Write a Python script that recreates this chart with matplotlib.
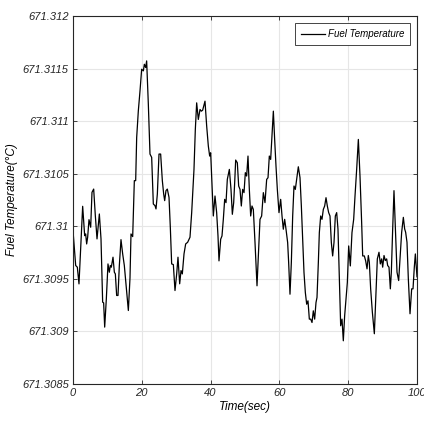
import matplotlib
matplotlib.use("Agg")
import matplotlib.pyplot as plt
import numpy as np

time_sec = [0.0, 0.78, 1.26, 1.74, 2.03, 2.81, 3.39, 3.68, 3.97, 4.26, 4.65, 5.14, 5.52, 6.01, 6.49, 6.98,
            7.66, 8.14, 8.62, 8.91, 9.21, 9.69, 10.17, 10.56, 10.85, 11.14, 11.63, 12.02, 12.31, 12.69,
            13.08, 13.47, 13.95, 14.44, 14.92, 15.41, 16.09, 16.57,
            16.86, 17.35, 17.83, 18.22, 18.51, 18.99, 19.48, 19.96, 20.45, 20.74, 21.12, 21.41, 21.90,
            22.38, 22.87, 23.35, 23.84, 24.13, 24.52, 25.0, 25.48, 25.97, 26.36, 26.65, 27.03, 27.42,
            27.91, 28.29, 28.68, 29.17, 29.65, 30.14, 30.52, 31.01, 31.40, 31.78, 32.27, 32.75, 33.33, 34.01,
            34.50, 35.17, 35.56, 35.95, 36.43, 36.92, 37.31, 37.69, 37.98, 38.37, 38.86, 39.34, 39.73,
            40.02, 40.41, 40.79, 41.28, 41.76, 42.15, 42.44, 42.93, 43.31, 43.70, 44.09, 44.48, 44.86,
            45.45, 45.93, 46.32, 46.71, 47.0, 47.29, 47.77, 48.16, 48.55, 48.93, 49.32, 49.71, 50.10,
            50.48, 50.87, 51.26, 51.65, 52.03, 52.42, 52.91,
            53.49, 53.97, 54.36, 54.84, 55.33, 55.81, 56.30, 56.69, 57.07, 57.46, 57.85, 58.24, 58.62,
            59.01, 59.40, 59.88, 60.37, 60.76, 61.14, 61.53, 61.92, 62.40, 62.69, 63.08, 63.47, 63.86,
            64.24, 64.63, 65.02, 65.50, 65.99, 66.38, 66.76, 67.15, 67.54, 67.93, 68.31, 68.70, 69.09,
            69.48, 69.86, 70.25, 70.64,
            70.93, 71.32, 71.61, 72.00, 72.38, 72.77, 73.16, 73.55, 73.93, 74.32, 74.71, 75.10, 75.48,
            75.87, 76.26, 76.65, 77.03, 77.42, 77.81, 78.20, 78.58, 78.97, 79.36, 79.75, 80.14, 80.62,
            81.10, 81.59, 81.98, 82.46, 82.95, 83.43, 83.91, 84.21, 84.69, 85.08,
            85.47, 85.85, 86.14, 86.53, 87.02, 87.60, 88.08, 88.47, 88.95, 89.34, 89.73, 90.02, 90.41,
            90.79, 91.18, 91.47, 91.86, 92.25, 92.54, 92.93, 93.31, 93.70, 94.19, 94.67, 95.06, 95.54,
            96.03, 96.41, 96.70, 97.09, 97.48, 97.97, 98.45, 98.84, 99.22, 99.52, 99.90, 100.0]

fuel_temp = [671.309959, 671.309627, 671.309611, 671.309452, 671.309658, 671.310190, 671.309911,
             671.309927, 671.309832, 671.309896, 671.310063, 671.309991, 671.310323, 671.310354,
             671.310101, 671.309880, 671.310117, 671.309880, 671.309278, 671.309272, 671.309041,
             671.309310, 671.309642, 671.309563, 671.309627, 671.309611, 671.309706, 671.309563,
             671.309547, 671.309342, 671.309342, 671.309627, 671.309873, 671.309737, 671.309627,
             671.309452, 671.309199, 671.309510,
             671.309927, 671.309902, 671.310434, 671.310434, 671.310845, 671.311098, 671.311288,
             671.311494, 671.311478, 671.311541, 671.311510, 671.311573, 671.311161, 671.310687,
             671.310655, 671.310212, 671.310196, 671.310165, 671.310307, 671.310687, 671.310687,
             671.310434, 671.310307, 671.310244, 671.310339, 671.310354, 671.310275, 671.309991,
             671.309642, 671.309636, 671.309389, 671.309547, 671.309706, 671.309453, 671.309579,
             671.309547, 671.309737, 671.309832, 671.309848, 671.309896,
             671.310130, 671.310541, 671.310921, 671.311174, 671.311016, 671.311111, 671.311095,
             671.311104, 671.311142, 671.311190, 671.310953, 671.310763, 671.310668, 671.310699,
             671.310383, 671.310098, 671.310288, 671.310130, 671.309908, 671.309671, 671.309877,
             671.309908, 671.310066, 671.310256, 671.310225, 671.310446, 671.310541, 671.310351,
             671.310114, 671.310225, 671.310415, 671.310630, 671.310604, 671.310383, 671.310351,
             671.310193, 671.310351, 671.310320, 671.310510, 671.310478, 671.310668, 671.310351,
             671.310098, 671.310193, 671.310161, 671.309845,
             671.309434, 671.309782, 671.310066, 671.310098, 671.310320, 671.310225, 671.310446,
             671.310462, 671.310668, 671.310636, 671.310858, 671.311095, 671.310826, 671.310573,
             671.310351, 671.310130, 671.310256, 671.310098, 671.309972, 671.310066, 671.309972,
             671.309845, 671.309655, 671.309354, 671.309655, 671.310098, 671.310383, 671.310351,
             671.310446, 671.310566, 671.310462, 671.310193, 671.309877, 671.309560, 671.309370,
             671.309259, 671.309291, 671.309117, 671.309117, 671.309085, 671.309196, 671.309117,
             671.309275,
             671.309323, 671.309655, 671.309940, 671.310098, 671.310066, 671.310161, 671.310193,
             671.310272, 671.310193, 671.310130, 671.310098, 671.309845, 671.309718, 671.309845,
             671.310098, 671.310130, 671.309972, 671.309528, 671.309054, 671.309117, 671.308911,
             671.309149, 671.309307, 671.309465, 671.309813, 671.309623, 671.309940, 671.310066,
             671.310288, 671.310541, 671.310826, 671.310478, 671.310035, 671.309718, 671.309718,
             671.309671,
             671.309595, 671.309722, 671.309658, 671.309405, 671.309184, 671.308978, 671.309373,
             671.309690, 671.309753, 671.309642, 671.309690, 671.309611, 671.309722, 671.309674,
             671.309690, 671.309627, 671.309611, 671.309405, 671.309563, 671.309975, 671.310339,
             671.310006, 671.309563, 671.309484, 671.309690, 671.309943, 671.310085, 671.309975,
             671.309943, 671.309848, 671.309500, 671.309168, 671.309405, 671.309405, 671.309611,
             671.309737, 671.309563, 671.309520]

y_ticks = [671.3085, 671.309, 671.3095, 671.31, 671.3105, 671.311, 671.3115, 671.312]
y_tick_labels = ["671.3085", "671.309", "671.3095", "671.31", "671.3105", "671.311", "671.3115", "671.312"]
x_ticks = [0, 20, 40, 60, 80, 100]
x_tick_labels = ["0", "20", "40", "60", "80", "100"]

plt.rcParams['font.family'] = ['Liberation Sans', 'DejaVu Sans']

fig = plt.figure(figsize=(4.24, 4.28), dpi=100)
ax = fig.add_axes([73/424, 1 - 384/428, (417 - 73)/424, (384 - 16)/428])

ax.plot(time_sec, fuel_temp, color='black', linewidth=0.9, label='Fuel Temperature')

ax.set_xlim(0, 100)
ax.set_ylim(671.3085, 671.312)
ax.set_xticks(x_ticks)
ax.set_xticklabels(x_tick_labels, fontstyle='italic', fontsize=8)
ax.set_yticks(y_ticks)
ax.set_yticklabels(y_tick_labels, fontstyle='italic', fontsize=8)
ax.tick_params(direction='in', top=True, right=True, length=3, width=0.6, colors='#262626',
               pad=3)
ax.grid(True, color='#e6e6e6', linewidth=0.8)
ax.set_axisbelow(True)
for s in ax.spines.values():
    s.set_color('#262626')
    s.set_linewidth(0.8)

ax.set_xlabel('Time(sec)', fontstyle='italic', fontsize=8.5, labelpad=2)
ax.set_ylabel('Fuel Temperature(°C)', fontstyle='italic', fontsize=8.5, labelpad=3)

leg = ax.legend(loc='upper right', prop={'style': 'italic', 'size': 7}, fancybox=False,
                framealpha=1, edgecolor='#262626', borderaxespad=0.7, handlelength=2.4,
                handletextpad=0.3, borderpad=0.65)
leg.get_frame().set_linewidth(0.6)

fig.savefig('out.png', dpi=100)
